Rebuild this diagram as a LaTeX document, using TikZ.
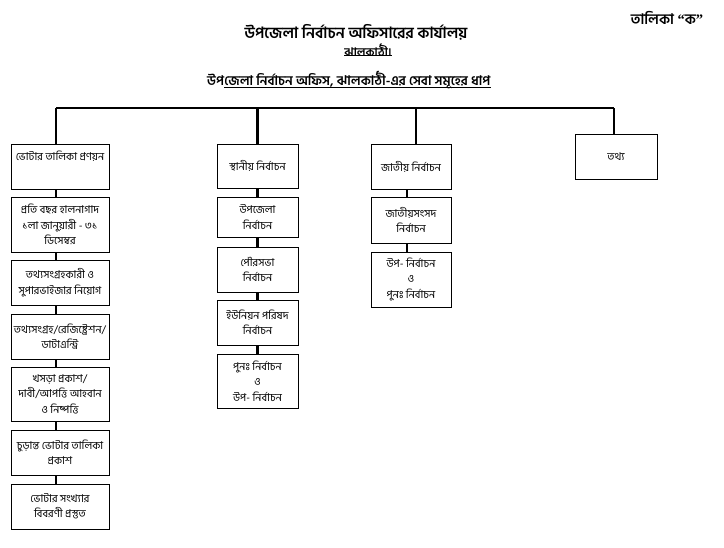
\documentclass[tikz,border=0pt]{standalone}
\usepackage{fontspec}
\newfontfamily\bn[Script=Bengali]{Hind Siliguri}
\newfontfamily\bnq{Liberation Serif}
\begin{document}
\begin{tikzpicture}[x=1pt,y=-1pt,
  box/.style={draw,line width=0.8pt,align=center,inner sep=1pt,font=\bn\fontsize{10.8}{15.5}\selectfont},
  w1/.style={minimum width=98pt},
  w2/.style={minimum width=81pt},
  w3/.style={minimum width=80pt},
  w4/.style={minimum width=82pt},
  link/.style={line width=2.6pt},
  busline/.style={line width=1.8pt},
  ttl/.style={font=\bn\bfseries\fontsize{15.5}{17}\selectfont,inner sep=0pt},
  sub/.style={font=\bn\bfseries\fontsize{13.2}{15}\selectfont,inner sep=0pt},
  uline/.style={line width=0.8pt}]
\useasboundingbox (0,0) rectangle (724,548);
% titles
\node[ttl] (t1) at (356,32) {উপজেলা নির্বাচন অফিসারের কার্যালয়};
\node[font=\bn\bfseries\fontsize{11.7}{13}\selectfont,inner sep=0pt] (t2) at (368,50) {ঝালকাঠী।};
\draw[uline] ([yshift=1.5pt]t2.south west) -- ([yshift=1.5pt]t2.south east);
\node[sub,anchor=west] (t3a) at (207,80) {উপ};
\node[sub,anchor=west] (t3b) at (t3a.east) {জেলা নির্বাচন অফিস, ঝালকাঠী-এর সেবা সমূহের ধাপ};
\draw[uline] ([yshift=1.5pt]t3b.south west) -- ([yshift=1.5pt]t3b.south east);
\node[font=\bn\bfseries\fontsize{14.5}{16}\selectfont,inner sep=0pt] (tk) at (667,18) {তালিকা {\bnq\bfseries “}ক{\bnq\bfseries ”}};
% column 1
\node[box,w1,minimum height=45pt,text depth=22pt] (c1a) at (60,166.5) {ভোটার তালিকা প্রণয়ন};
\node[box,w1,minimum height=55pt] (c1b) at (60,224.5) {প্রতি বছর হালনাগাদ\\১লা জানুয়ারী - ৩১\\ডিসেম্বর};
\node[box,w1,minimum height=45pt] (c1c) at (60,282.5) {তথ্যসংগ্রহকারী ও\\সুপারভাইজার নিয়োগ};
\node[box,w1,minimum height=45pt] (c1d) at (60,336.5) {তথ্যসংগ্রহ/রেজিষ্ট্রেশন/\\ডাটাএন্ট্রি};
\node[box,w1,minimum height=54pt] (c1e) at (60,394) {খসড়া প্রকাশ/\\দাবী/আপত্তি আহবান\\ও নিষ্পত্তি};
\node[box,w1,minimum height=45pt] (c1f) at (60,452.5) {চুড়ান্ত ভোটার তালিকা\\প্রকাশ};
\node[box,w1,minimum height=45pt] (c1g) at (60,506.5) {ভোটার সংখ্যার\\বিবরণী প্রস্তুত};
% column 2
\node[box,w2,minimum height=44pt] (c2a) at (257.5,166) {স্থানীয় নির্বাচন};
\node[box,w2,minimum height=40pt] (c2b) at (257.5,217) {উপজেলা\\নির্বাচন};
\node[box,w2,minimum height=45pt] (c2c) at (257.5,269.5) {পৌরসভা\\নির্বাচন};
\node[box,w2,minimum height=45pt] (c2d) at (257.5,322.5) {ইউনিয়ন পরিষদ\\নির্বাচন};
\node[box,w2,minimum height=54pt] (c2e) at (257.5,381) {পুনঃ নির্বাচন\\ও\\উপ- নির্বাচন};
% column 3
\node[box,w3,minimum height=45pt] (c3a) at (411,166.5) {জাতীয় নির্বাচন};
\node[box,w3,minimum height=46pt] (c3b) at (411,220) {জাতীয়সংসদ\\নির্বাচন};
\node[box,w3,minimum height=55pt] (c3c) at (411,279.5) {উপ- নির্বাচন\\ও\\পুনঃ নির্বাচন};
% column 4
\node[box,w4,minimum height=45pt] (c4a) at (616,156.5) {তথ্য};
% bus
\coordinate (busy) at (0,108);
\draw[busline] ([xshift=-4pt]c1a.north |- busy) -- ([xshift=-2pt]c4a.north |- busy);
\draw[link] ([xshift=-4pt]c1a.north) -- ([xshift=-4pt]c1a.north |- busy);
\draw[link] (c2a.north) -- (c2a.north |- busy);
\draw[link] ([xshift=5pt]c3a.north) -- ([xshift=5pt]c3a.north |- busy);
\draw[link] ([xshift=-2pt]c4a.north) -- ([xshift=-2pt]c4a.north |- busy);
% chains
\foreach \a/\b in {c1a/c1b,c1b/c1c,c1c/c1d,c1d/c1e,c1e/c1f,c1f/c1g}
  \draw[link] ([xshift=-4pt]\a.south) -- ([xshift=-4pt]\b.north);
\foreach \a/\b in {c2a/c2b,c2b/c2c,c2c/c2d,c2d/c2e}
  \draw[link] (\a.south) -- (\b.north);
\foreach \a/\b in {c3a/c3b,c3b/c3c}
  \draw[link] ([xshift=-4pt]\a.south) -- ([xshift=-4pt]\b.north);
\end{tikzpicture}
\end{document}
